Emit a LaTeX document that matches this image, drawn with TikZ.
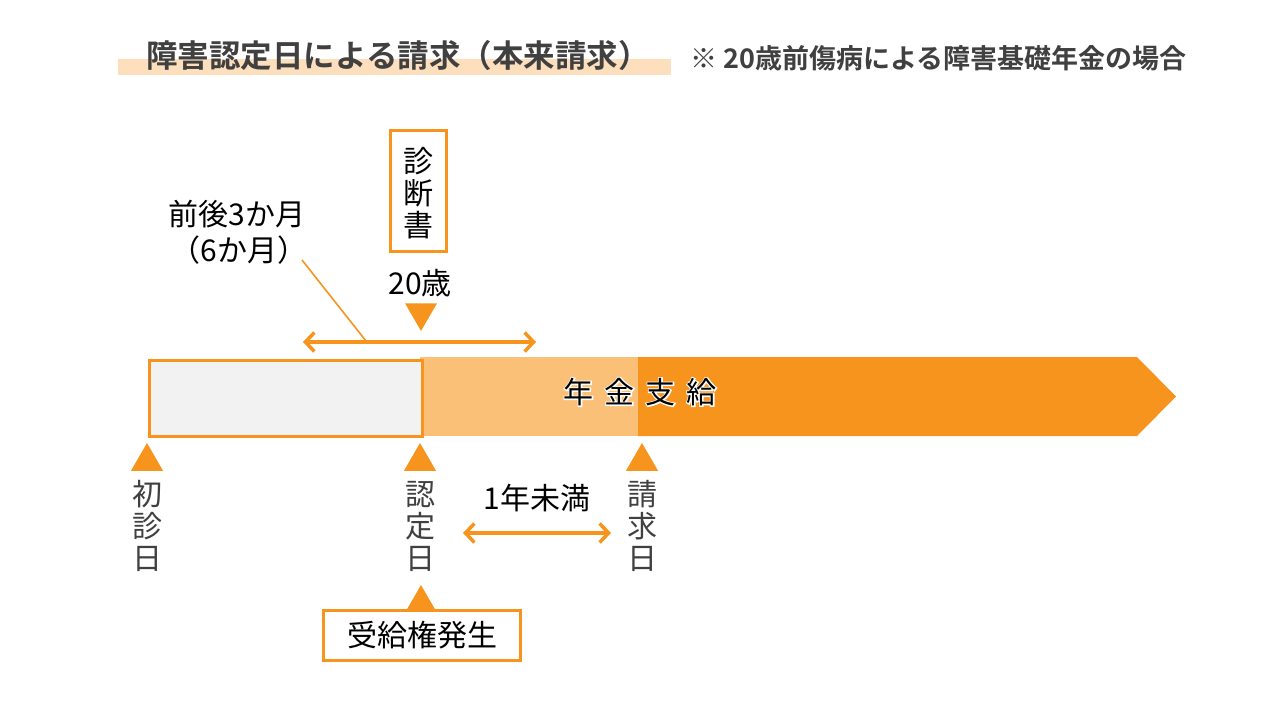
\documentclass[tikz,border=0pt]{standalone}
\usepackage{fontspec}
\setmainfont{Noto Sans CJK JP}
\newfontfamily\jpb{Noto Sans CJK JP Bold}
\newfontfamily\jpglow[FakeBold=8]{Noto Sans CJK JP}
\usetikzlibrary{arrows.meta,shapes.geometric}
\definecolor{org}{HTML}{F7941D}
\definecolor{lorg}{HTML}{FAC078}
\definecolor{peach}{HTML}{FDDEBD}
\definecolor{boxgray}{HTML}{F2F2F2}
\definecolor{txtgray}{HTML}{404040}
\tikzset{
  tri/.style={regular polygon, regular polygon sides=3, minimum size=37, inner sep=0, outer sep=0, fill=org, draw=none},
  tridown/.style={tri, shape border rotate=180},
  obox/.style={draw=org, line width=3.5, fill=white, inner sep=0},
  lbl/.style={font=\fontsize{30}{32}\selectfont, text=txtgray, align=center, inner sep=0},
  txt/.style={font=\fontsize{30}{30}\selectfont, text=black, inner sep=0},
  darrow/.style={draw=org, line width=3.5, {Straight Barb[length=9,width=19]}-{Straight Barb[length=9,width=19]}},
}
\begin{document}
\begin{tikzpicture}[x=1pt,y=-1pt]
\useasboundingbox (0,0) rectangle (1280,720);
\fill[white] (0,0) rectangle (1280,720);
% title
\node[fill=peach, minimum width=553, minimum height=16, inner sep=0, anchor=north west] (hl) at (118,59) {};
\node[font=\jpb\fontsize{31.5}{31.5}\selectfont, text=txtgray, inner sep=0] (title) at (398,56) {障害認定日による請求（本来請求）};
\node[font=\jpb\fontsize{27}{27}\selectfont, text=txtgray, inner sep=0, anchor=west] (note) at (690,58) {※ 20歳前傷病による障害基礎年金の場合};
% bar
\fill[org] (638,357) -- (1137,357) -- (1176,396.5) -- (1137,436) -- (638,436) -- cycle;
\node[fill=lorg, minimum width=218, minimum height=79, inner sep=0, anchor=north west] (mid) at (420,357) {};
\node[draw=org, line width=3.5, fill=boxgray, minimum width=273, minimum height=76, inner sep=0, anchor=north west] (pre) at (147.5,358.5) {};
\coordinate (barc) at (640,392);
\node[font=\jpglow\fontsize{30}{30}\selectfont, text=white, inner sep=0] (glow) at (barc) {年\hspace{11pt}金\hspace{11pt}支\hspace{11pt}給};
\node[font=\fontsize{30}{30}\selectfont, text=black, inner sep=0] (nenkin) at (barc) {年\hspace{11pt}金\hspace{11pt}支\hspace{11pt}給};
% bottom triangles and labels
\node[tri] (t1) at (147,461.5) {};
\node[tri] (t2) at (420,461.5) {};
\node[tri] (t3) at (642,461.5) {};
\node[lbl] (l1) at (147,526) {初\\診\\日};
\node[lbl] (l2) at (420,526) {認\\定\\日};
\node[lbl] (l3) at (642,526) {請\\求\\日};
\node[txt] (miman) at (537,498) {1年未満};
\coordinate (a1) at (463,533);
\coordinate (a2) at (611,533);
\draw[darrow] (a1) -- (a2);
% jukyuken
\node[tri] (t4) at (421,603.5) {};
\node[obox, minimum width=197, minimum height=50] (juk) at (422,635.5) {\fontsize{30}{30}\selectfont 受給権発生};
% top
\node[obox, minimum width=56, minimum height=121] (shin) at (418.5,191) {};
\node[lbl, text=black] (shintxt) at (418.5,193) {診\\断\\書};
\node[txt] (age) at (420,283) {20歳};
\node[tridown] (t5) at (421,312.5) {};
\coordinate (b1) at (303,342);
\coordinate (b2) at (536,342);
\draw[darrow] (b1) -- (b2);
\node[txt] (zengo) at (237,214) {前後3か月};
\node[txt] (rokka) at (239,250) {（6か月）};
\coordinate (lead1) at (302,260);
\coordinate (lead2) at (366,341);
\draw[org, line width=1.6] (lead1) -- (lead2);
\end{tikzpicture}
\end{document}
